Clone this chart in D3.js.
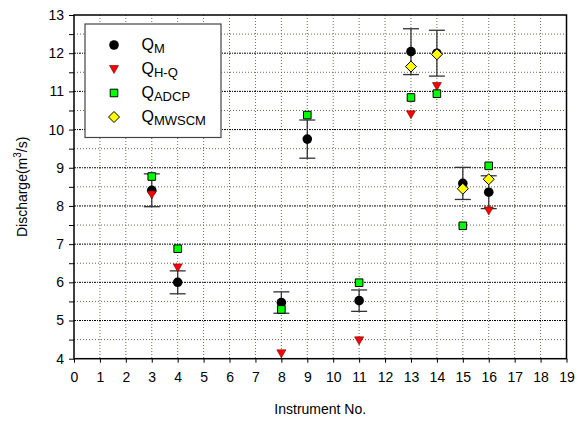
<!DOCTYPE html>
<html><head><meta charset="utf-8">
<script src="https://cdn.jsdelivr.net/npm/d3@7"></script>
<style>body{margin:0;background:#fff;} text{font-family:"Liberation Sans",Arial,sans-serif;}</style>
</head><body><svg id="c" width="582" height="421"></svg>
<script>
const instruments = [3, 4, 8, 9, 11, 13, 14, 15, 16];
const qM      = [8.41, 6.00, 5.47, 9.75, 5.52, 12.04, 12.00, 8.59, 8.36];
const qMerr   = [0.43, 0.30, 0.28, 0.50, 0.28, 0.60, 0.60, 0.42, 0.43];
const hqInst  = [3, 4, 8, 11, 13, 14, 16];
const qHQ     = [8.30, 6.39, 4.14, 4.48, 10.40, 11.14, 7.88];
const adInst  = [3, 4, 8, 9, 11, 13, 14, 15, 16];
const qADCP   = [8.77, 6.88, 5.29, 10.38, 5.99, 10.84, 10.94, 7.48, 9.05];
const mwInst  = [13, 14, 15, 16];
const qMWSCM  = [11.65, 11.97, 8.45, 8.70];
const xTicks = d3.range(0, 20);
const yTicks = d3.range(4, 14);
const yMinor = d3.range(4, 13.01, 0.5);

const svg = d3.select("#c");
const L = 74, R = 566.5, T = 15, B = 358.7;
const x = d3.scaleLinear().domain([0, 19]).range([L, R]);
const y = d3.scaleLinear().domain([4, 13]).range([B, T]);

// grid
const g = svg.append("g");
g.selectAll(".vg").data(xTicks.slice(1)).enter().append("line")
  .attr("x1", d => x(d)).attr("x2", d => x(d)).attr("y1", T).attr("y2", B)
  .attr("stroke", "#6b6b55").attr("stroke-width", 1).attr("stroke-dasharray", "1,2");
g.selectAll(".hg").data(yMinor.filter(d => d > 4 && d < 13)).enter().append("line")
  .attr("x1", L).attr("x2", R).attr("y1", d => y(d)).attr("y2", d => y(d))
  .attr("stroke", d => Number.isInteger(d) ? "#000" : "#6b6b55")
  .attr("stroke-width", 1)
  .attr("stroke-dasharray", d => Number.isInteger(d) ? "2,1,1,1" : "1,2");

// axes
svg.append("g").attr("transform", `translate(0,${B})`)
  .call(d3.axisBottom(x).tickValues(xTicks).tickSize(4).tickPadding(9).tickFormat(d3.format("d")))
  .call(a => a.select(".domain").remove())
  .call(a => a.selectAll("text").attr("font-size", 14).attr("fill", "#000"));
svg.append("g").attr("transform", `translate(${L},0)`)
  .call(d3.axisLeft(y).tickValues(yMinor).tickSize(5).tickPadding(5).tickFormat(d => Number.isInteger(d) ? d : ""))
  .call(a => a.select(".domain").remove())
  .call(a => a.selectAll("text").attr("font-size", 14).attr("fill", "#000"));
svg.append("rect").attr("x", L).attr("y", T).attr("width", R - L).attr("height", B - T)
  .attr("fill", "none").attr("stroke", "#000").attr("stroke-width", 1.5);

// titles
svg.append("text").attr("x", (L + R) / 2).attr("y", 414).attr("text-anchor", "middle")
  .attr("font-size", 14).text("Instrument No.");
const yt = svg.append("text").attr("transform", `translate(27,${(T + B) / 2}) rotate(-90)`)
  .attr("text-anchor", "middle").attr("font-size", 14);
yt.append("tspan").text("Discharge(m");
yt.append("tspan").attr("font-size", 10).attr("dy", -6).text("3");
yt.append("tspan").attr("dy", 6).text("/s)");

// error bars
const eb = svg.append("g").attr("stroke", "#333").attr("stroke-width", 1.3);
instruments.forEach((d, i) => {
  const cx = x(d);
  eb.append("line").attr("x1", cx).attr("x2", cx).attr("y1", y(qM[i] + qMerr[i])).attr("y2", y(qM[i] - qMerr[i]));
  [qM[i] + qMerr[i], qM[i] - qMerr[i]].forEach(v =>
    eb.append("line").attr("x1", cx - 8).attr("x2", cx + 8).attr("y1", y(v)).attr("y2", y(v)));
});

const tri = "M-4.5,-3.5L4.5,-3.5L0,4.5Z";
const sq = "M-3.8,-3.8H3.8V3.8H-3.8Z";
const dia = "M0,-5.5L5.5,0L0,5.5L-5.5,0Z";

svg.append("g").selectAll("circle").data(instruments).enter().append("circle")
  .attr("cx", d => x(d)).attr("cy", (d, i) => y(qM[i])).attr("r", 4.8).attr("fill", "#000");
svg.append("g").selectAll("path").data(hqInst).enter().append("path")
  .attr("d", tri).attr("transform", (d, i) => `translate(${x(d)},${y(qHQ[i])})`)
  .attr("fill", "#ff0000").attr("stroke", "#600").attr("stroke-width", 0.6);
svg.append("g").selectAll("path").data(adInst).enter().append("path")
  .attr("d", sq).attr("transform", (d, i) => `translate(${x(d)},${y(qADCP[i])})`)
  .attr("fill", "#00ff00").attr("stroke", "#000").attr("stroke-width", 1);
svg.append("g").selectAll("path").data(mwInst).enter().append("path")
  .attr("d", dia).attr("transform", (d, i) => `translate(${x(d)},${y(qMWSCM[i])})`)
  .attr("fill", "#ffff00").attr("stroke", "#000").attr("stroke-width", 1);

// legend
const lg = svg.append("g");
lg.append("rect").attr("x", 85).attr("y", 24).attr("width", 136).attr("height", 113.5)
  .attr("fill", "#fff").attr("stroke", "#444").attr("stroke-width", 1.2);
const legItems = [
  {sub: "M", shape: "c"}, {sub: "H-Q", shape: "t"}, {sub: "ADCP", shape: "s"}, {sub: "MWSCM", shape: "d"}
];
legItems.forEach((it, i) => {
  const cy = 45 + i * 24, sx = 114;
  if (it.shape === "c") lg.append("circle").attr("cx", sx).attr("cy", cy).attr("r", 4.8).attr("fill", "#000");
  if (it.shape === "t") lg.append("path").attr("d", tri).attr("transform", `translate(${sx},${cy})`).attr("fill", "#f00").attr("stroke", "#600").attr("stroke-width", 0.6);
  if (it.shape === "s") lg.append("path").attr("d", sq).attr("transform", `translate(${sx},${cy})`).attr("fill", "#0f0").attr("stroke", "#000");
  if (it.shape === "d") lg.append("path").attr("d", dia).attr("transform", `translate(${sx},${cy})`).attr("fill", "#ff0").attr("stroke", "#000");
  const t = lg.append("text").attr("x", 141.5).attr("y", cy + 5).attr("font-size", 16);
  t.append("tspan").text("Q");
  t.append("tspan").attr("font-size", 13).attr("dy", 3).text(it.sub);
});
</script></body></html>
